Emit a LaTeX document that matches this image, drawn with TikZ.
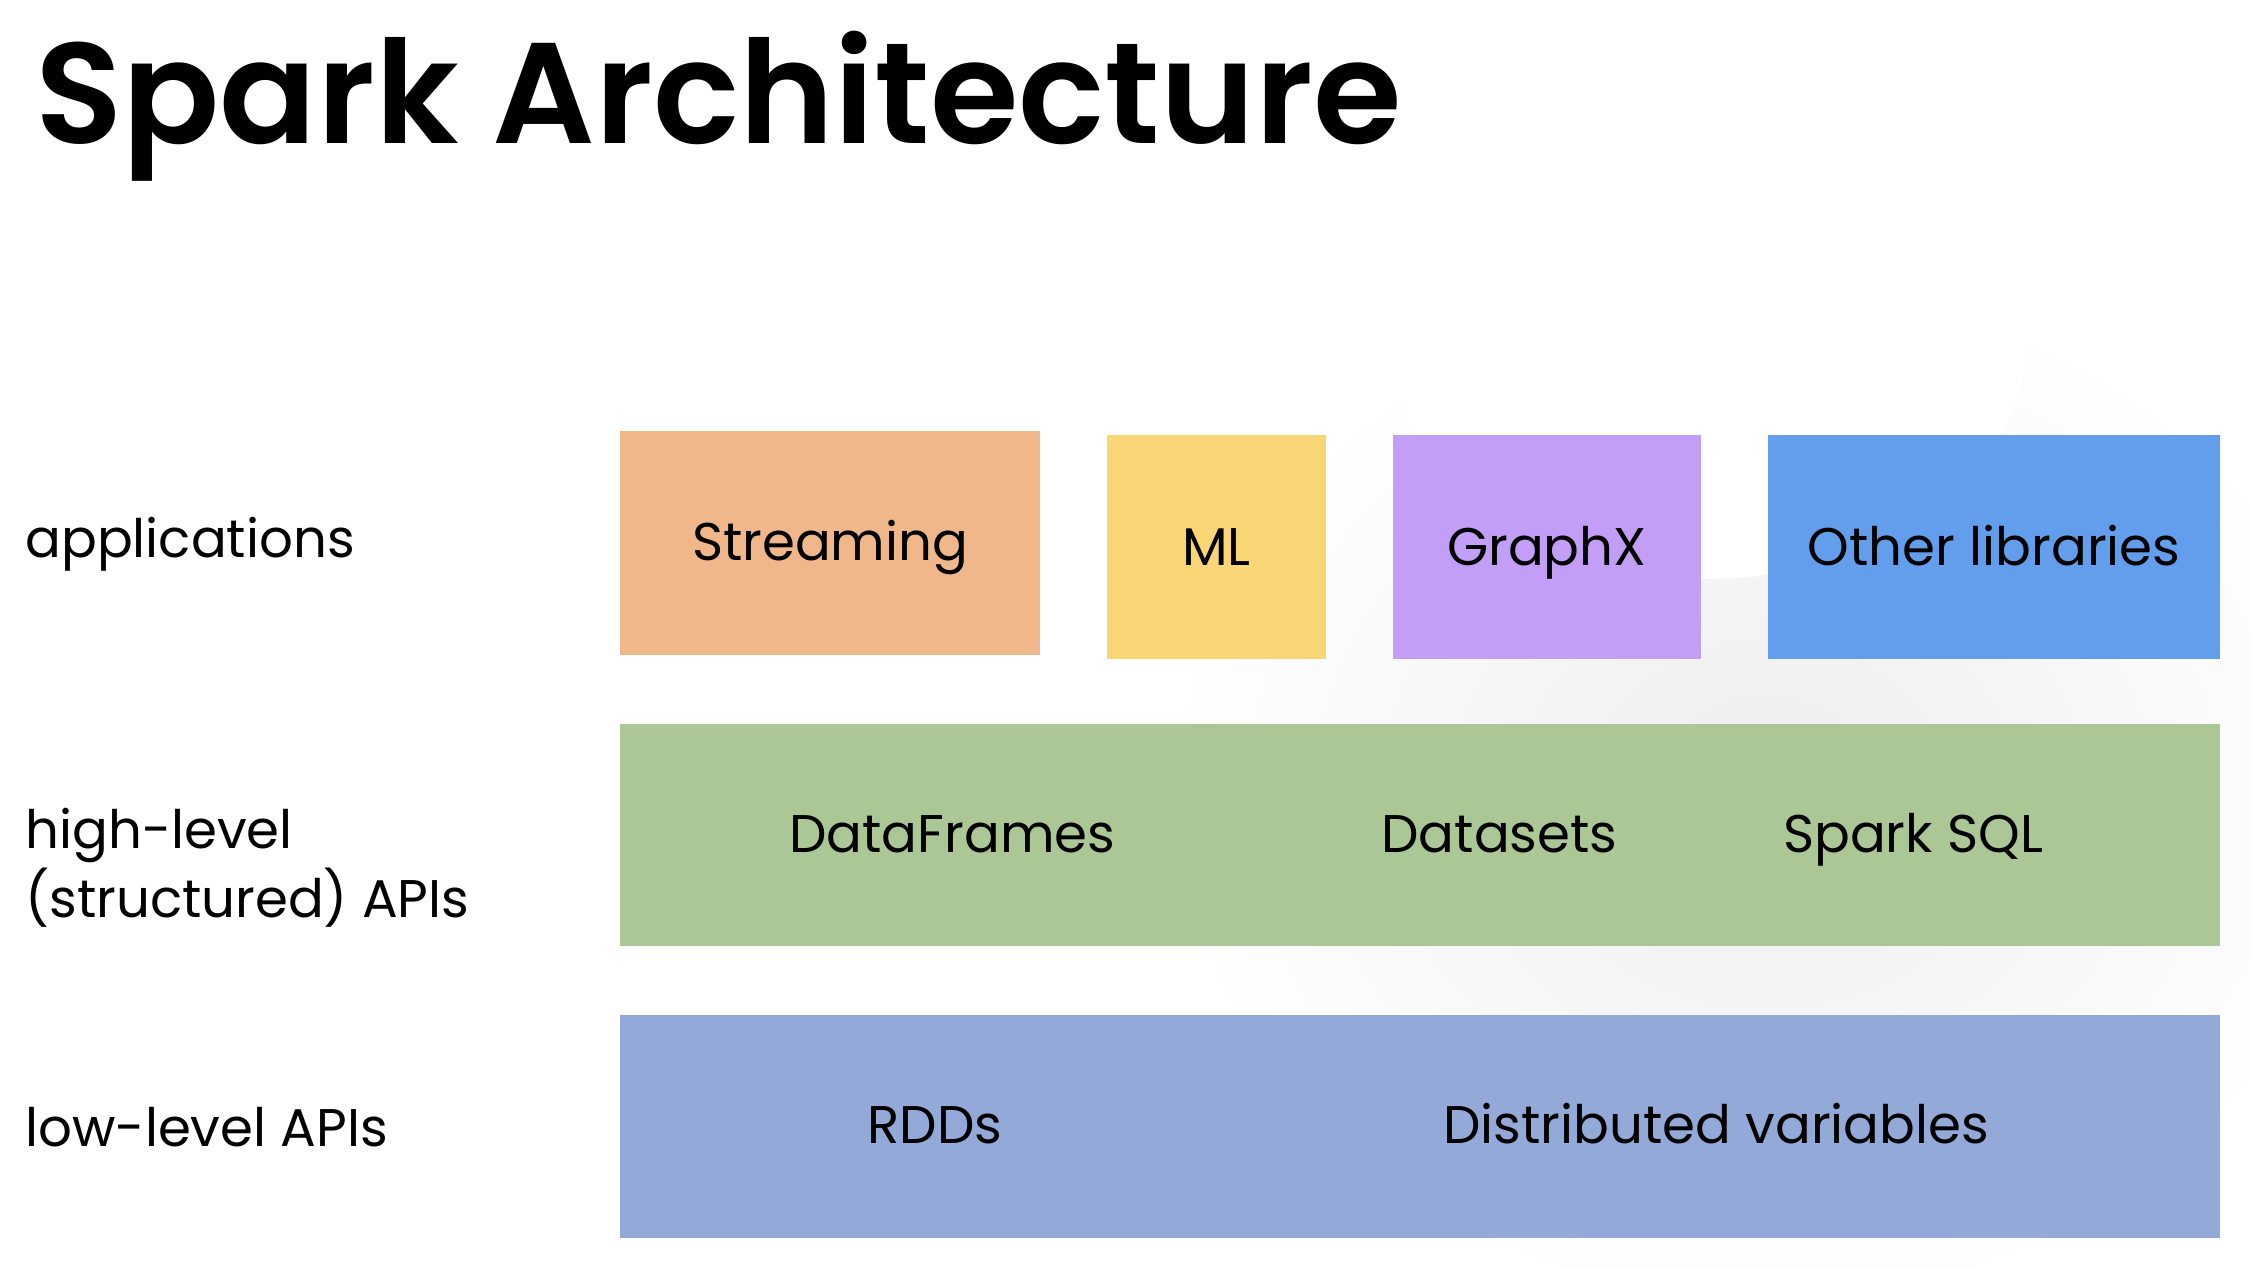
\documentclass[tikz,border=0pt]{standalone}
\usepackage{fontspec}
\setmainfont{Poppins}
\newfontfamily\titlefont{Poppins SemiBold}
\usepackage{xcolor}
\definecolor{streamcol}{HTML}{F0B88A}
\definecolor{mlcol}{HTML}{F8D676}
\definecolor{graphcol}{HTML}{C29EF6}
\definecolor{othercol}{HTML}{629EEB}
\definecolor{highcol}{HTML}{ABC795}
\definecolor{lowcol}{HTML}{93AAD9}
\tikzset{
  appbox/.style={minimum height=1.56cm, inner sep=0pt, text height=1.75ex, text depth=0.45ex, font=\fontsize{10.5}{13}\selectfont},
  layertext/.style={inner sep=0pt, text height=1.75ex, text depth=0.45ex, font=\fontsize{10.5}{13}\selectfont},
  rowlabel/.style={anchor=west, align=left, inner sep=0pt, font=\fontsize{10.5}{12.5}\selectfont}
}

\begin{document}
\begin{tikzpicture}
    \useasboundingbox (0,0) rectangle (15.68,8.83);
    \fill[white] (0,0) rectangle (15.68,8.83);
    % faint blurred backdrop on the right
    \shade[inner color=black!7, outer color=white] (12.3,3.3) ellipse (4.2 and 3.6);
    \shade[inner color=white, outer color=white!0] (11.9,6.4) ellipse (2.2 and 1.6);

    \node[anchor=base west, inner sep=0pt, font=\fontsize{28.4}{33}\titlefont] (title) at (0.24,7.83) {Spark Architecture};

    % applications
    \node[appbox, fill=streamcol, minimum width=2.92cm] (streaming) at (5.78,5.05) {Streaming};
    \node[appbox, fill=mlcol, minimum width=1.52cm] (ml) at (8.47,5.02) {ML};
    \node[appbox, fill=graphcol, minimum width=2.14cm] (graphx) at (10.77,5.02) {GraphX};
    \node[appbox, fill=othercol, minimum width=3.15cm] (other) at (13.885,5.02) {Other libraries};

    % structured APIs
    \node[fill=highcol, minimum width=11.14cm, minimum height=1.55cm, inner sep=0pt] (high) at (9.89,3.015) {};
    \node[layertext] (dataframes) at (6.63,3.02) {DataFrames};
    \node[layertext] (datasets) at (10.44,3.02) {Datasets};
    \node[layertext] (sparksql) at (13.32,3.02) {Spark SQL};

    % low-level APIs
    \node[fill=lowcol, minimum width=11.14cm, minimum height=1.55cm, inner sep=0pt] (low) at (9.89,0.985) {};
    \node[layertext] (rdds) at (6.51,0.99) {RDDs};
    \node[layertext] (distvars) at (11.95,0.99) {Distributed variables};

    % row labels
    \node[rowlabel] (applab) at (0.17,5.04) {applications};
    \node[rowlabel] (highlab) at (0.17,2.79) {high-level\\(structured) APIs};
    \node[rowlabel] (lowlab) at (0.17,0.98) {low-level APIs};
  \end{tikzpicture}
\end{document}
